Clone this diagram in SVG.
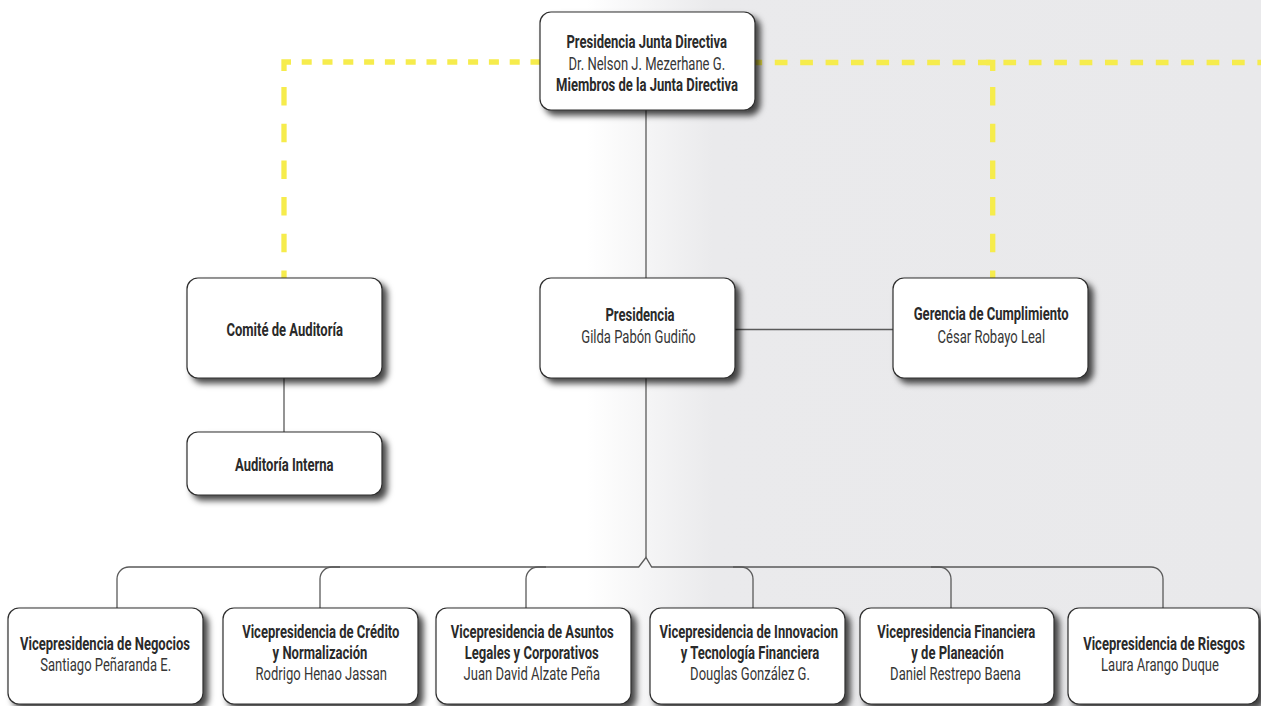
<svg xmlns="http://www.w3.org/2000/svg" width="1261" height="706" viewBox="0 0 1261 706">
<defs>
<linearGradient id="bg" x1="0" y1="0" x2="1261" y2="0" gradientUnits="userSpaceOnUse">
<stop offset="0" stop-color="#ffffff"/>
<stop offset="0.465" stop-color="#ffffff"/>
<stop offset="0.565" stop-color="#eaeaec"/>
<stop offset="1" stop-color="#e9e9eb"/>
</linearGradient>
<filter id="sh" x="-10%" y="-10%" width="125%" height="130%">
<feDropShadow dx="5" dy="5" stdDeviation="3" flood-color="#000" flood-opacity="0.72"/>
</filter>
</defs>
<style>
.box{fill:#fff;stroke:#2e2e2e;stroke-width:1.2;filter:url(#sh)}
.ln{fill:none;stroke:#5a5a5a;stroke-width:1.3}
.yl{fill:none;stroke:#f6ec4c;stroke-width:5.3}
.yh1{stroke-dasharray:10 10.8}
.yh2{stroke-dasharray:12.7 12.7}
.yv{stroke-dasharray:18.5 18.2}
.b{font-family:Roboto,"Liberation Sans",sans-serif;font-size:17.5px;font-weight:700;fill:#2a2a2a;text-anchor:middle}
.r{font-family:Roboto,"Liberation Sans",sans-serif;font-size:17.5px;font-weight:400;fill:#363636;text-anchor:middle}
</style>
<rect x="0" y="0" width="1261" height="706" fill="url(#bg)"/>

<g id="connectors">
<path class="yl" d="M284,71 V62 H291"/>
<line class="yl yh1" x1="301.7" y1="62" x2="540" y2="62"/>
<line class="yl yv" x1="284" y1="87" x2="284" y2="278"/>
<line class="yl yh2" x1="749.4" y1="62.5" x2="1261" y2="62.5"/>
<path class="yl" d="M992.7,71 V62.5 H986"/>
<line class="yl yv" x1="992.7" y1="87" x2="992.7" y2="278"/>
<line class="ln" x1="646" y1="110" x2="646" y2="278"/>
<line class="ln" x1="735" y1="329.5" x2="893" y2="329.5"/>
<line class="ln" x1="284" y1="378" x2="284" y2="432"/>
<line class="ln" x1="646" y1="378" x2="646" y2="557.5"/>
<path class="ln" d="M117,608 V579 A12,12 0 0 1 129,567 H638.7 L646,557.5 L651.7,567 H1151 A12,12 0 0 1 1163,579 V608"/>
<path class="ln" d="M320,608 V579 A12,12 0 0 1 332,567 H340"/>
<path class="ln" d="M526,608 V579 A12,12 0 0 1 538,567 H546"/>
<path class="ln" d="M753,608 V579 A12,12 0 0 0 741,567 H733"/>
<path class="ln" d="M951,608 V579 A12,12 0 0 0 939,567 H931"/>
</g>

<g id="n-junta">
<rect class="box" x="540" y="12" width="215" height="98" rx="11"/>
<text class="b" transform="translate(646.7,48) scale(0.745,1)">Presidencia Junta Directiva</text>
<text class="r" transform="translate(646.8,69.5) scale(0.745,1)">Dr. Nelson J. Mezerhane G.</text>
<text class="b" transform="translate(647,91) scale(0.745,1)">Miembros de la Junta Directiva</text>
</g>

<g id="n-comite">
<rect class="box" x="187" y="278" width="195" height="100" rx="11"/>
<text class="b" transform="translate(284.7,336) scale(0.745,1)">Comité de Auditoría</text>
</g>

<g id="n-auditoria">
<rect class="box" x="187" y="432" width="195" height="63" rx="11"/>
<text class="b" transform="translate(284.3,471) scale(0.745,1)">Auditoría Interna</text>
</g>

<g id="n-presidencia">
<rect class="box" x="540" y="278" width="195" height="100" rx="11"/>
<text class="b" transform="translate(640,321) scale(0.745,1)">Presidencia</text>
<text class="r" transform="translate(638.5,342.5) scale(0.745,1)">Gilda Pabón Gudiño</text>
</g>

<g id="n-cumplimiento">
<rect class="box" x="893" y="278" width="195" height="100" rx="11"/>
<text class="b" transform="translate(991.2,320) scale(0.745,1)">Gerencia de Cumplimiento</text>
<text class="r" transform="translate(991.3,342.5) scale(0.745,1)">César Robayo Leal</text>
</g>

<g id="n-vp-negocios">
<rect class="box" x="8" y="608" width="195" height="96" rx="11"/>
<text class="b" transform="translate(105,650) scale(0.745,1)">Vicepresidencia de Negocios</text>
<text class="r" transform="translate(105.7,671) scale(0.745,1)">Santiago Peñaranda E.</text>
</g>

<g id="n-vp-credito">
<rect class="box" x="223" y="608" width="195" height="96" rx="11"/>
<text class="b" transform="translate(320.8,638) scale(0.745,1)">Vicepresidencia de Crédito</text>
<text class="b" transform="translate(320,659) scale(0.745,1)">y Normalización</text>
<text class="r" transform="translate(321.3,680) scale(0.745,1)">Rodrigo Henao Jassan</text>
</g>

<g id="n-vp-legales">
<rect class="box" x="436" y="608" width="195" height="96" rx="11"/>
<text class="b" transform="translate(532.2,638) scale(0.745,1)">Vicepresidencia de Asuntos</text>
<text class="b" transform="translate(531.7,659) scale(0.745,1)">Legales y Corporativos</text>
<text class="r" transform="translate(531.8,680) scale(0.745,1)">Juan David Alzate Peña</text>
</g>

<g id="n-vp-innovacion">
<rect class="box" x="650" y="608" width="195" height="96" rx="11"/>
<text class="b" transform="translate(748.8,638) scale(0.745,1)">Vicepresidencia de Innovacion</text>
<text class="b" transform="translate(750,659) scale(0.745,1)">y Tecnología Financiera</text>
<text class="r" transform="translate(750,680) scale(0.745,1)">Douglas González G.</text>
</g>

<g id="n-vp-financiera">
<rect class="box" x="860" y="608" width="194" height="96" rx="11"/>
<text class="b" transform="translate(956.3,638) scale(0.745,1)">Vicepresidencia Financiera</text>
<text class="b" transform="translate(957.5,659) scale(0.745,1)">y de Planeación</text>
<text class="r" transform="translate(955.5,680) scale(0.745,1)">Daniel Restrepo Baena</text>
</g>

<g id="n-vp-riesgos">
<rect class="box" x="1068" y="608" width="191" height="96" rx="11"/>
<text class="b" transform="translate(1164,650) scale(0.745,1)">Vicepresidencia de Riesgos</text>
<text class="r" transform="translate(1160,671) scale(0.745,1)">Laura Arango Duque</text>
</g>
</svg>
